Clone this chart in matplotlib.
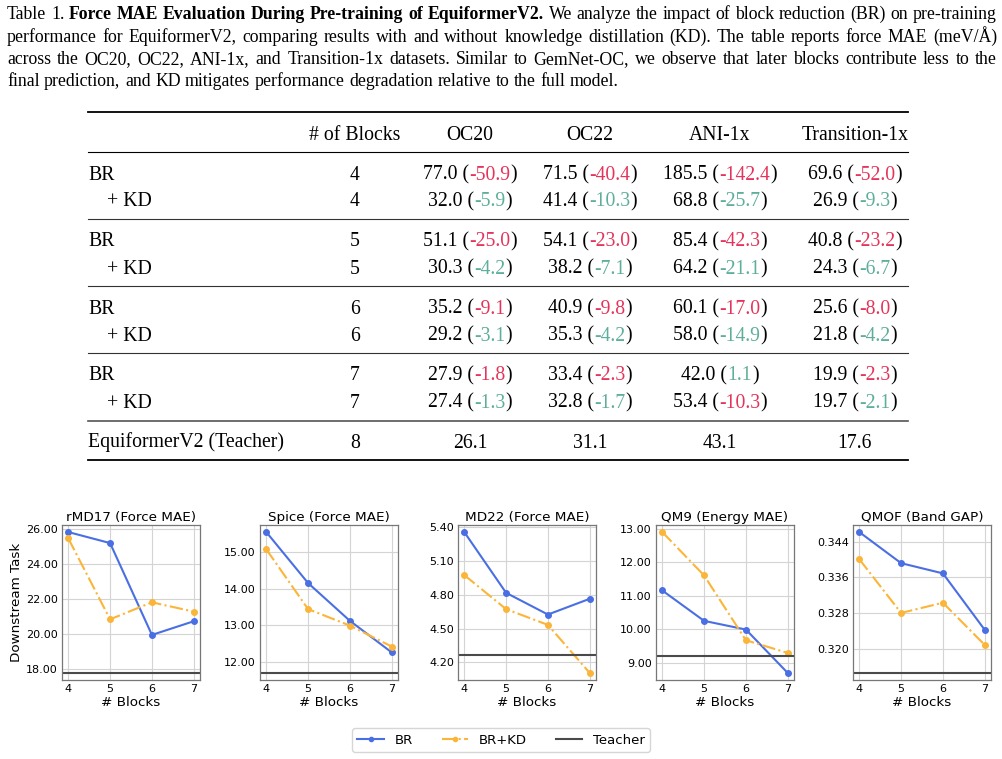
import matplotlib
matplotlib.use('Agg')
import matplotlib.pyplot as plt
from matplotlib.lines import Line2D
import numpy as np

W, H = 1002, 759

# ---- table data ----
row_labels = ['BR', '+ KD', 'BR', '+ KD', 'BR', '+ KD', 'BR', '+ KD', 'EquiformerV2 (Teacher)']
n_blocks = ['4', '4', '5', '5', '6', '6', '7', '7', '8']
col_names = ['OC20', 'OC22', 'ANI-1x', 'Transition-1x']
oc20 = ['77.0', '32.0', '51.1', '30.3', '35.2', '29.2', '27.9', '27.4', '26.1']
oc22 = ['71.5', '41.4', '54.1', '38.2', '40.9', '35.3', '33.4', '32.8', '31.1']
ani1x = ['185.5', '68.8', '85.4', '64.2', '60.1', '58.0', '42.0', '53.4', '43.1']
trans1x = ['69.6', '26.9', '40.8', '24.3', '25.6', '21.8', '19.9', '19.7', '17.6']
oc20_d = ['-50.9', '-5.9', '-25.0', '-4.2', '-9.1', '-3.1', '-1.8', '-1.3', None]
oc22_d = ['-40.4', '-10.3', '-23.0', '-7.1', '-9.8', '-4.2', '-2.3', '-1.7', None]
ani1x_d = ['-142.4', '-25.7', '-42.3', '-21.1', '-17.0', '-14.9', '1.1', '-10.3', None]
trans1x_d = ['-52.0', '-9.3', '-23.2', '-6.7', '-8.0', '-4.2', '-2.3', '-2.1', None]
# which delta is the better one (green) or worse (red)
oc20_good = [0, 1, 0, 1, 0, 1, 0, 1, None]
oc22_good = [0, 1, 0, 1, 0, 1, 0, 1, None]
ani1x_good = [0, 1, 0, 1, 0, 1, 1, 0, None]
trans1x_good = [0, 1, 0, 1, 0, 1, 0, 1, None]

# ---- plot data ----
blocks = [4, 5, 6, 7]
titles = ['rMD17 (Force MAE)', 'Spice (Force MAE)', 'MD22 (Force MAE)',
          'QM9 (Energy MAE)', 'QMOF (Band GAP)']
br = [[25.81, 25.18, 19.94, 20.72],
      [15.54, 14.15, 13.12, 12.26],
      [5.358, 4.818, 4.625, 4.765],
      [11.16, 10.25, 9.99, 8.69],
      [0.3462, 0.3392, 0.3369, 0.3242]]
br_kd = [[25.45, 20.83, 21.80, 21.27],
         [15.07, 13.44, 12.99, 12.42],
         [4.976, 4.673, 4.533, 4.106],
         [12.91, 11.61, 9.67, 9.29],
         [0.3401, 0.3280, 0.3303, 0.3208]]
teacher = [17.77, 11.70, 4.262, 9.21, 0.3145]
yticks = [[18, 20, 22, 24, 26],
          [12, 13, 14, 15],
          [4.2, 4.5, 4.8, 5.1, 5.4],
          [9, 10, 11, 12, 13],
          [0.320, 0.328, 0.336, 0.344]]
yfmt = ['%.2f', '%.2f', '%.2f', '%.2f', '%.3f']

RED = '#e5345a'
GREEN = '#5fae9b'
BLUE = '#4a6fe3'
ORANGE = '#fbb539'

fig = plt.figure(figsize=(W / 100, H / 100), dpi=100)
r = fig.canvas.get_renderer()
serif = ['Liberation Serif', 'DejaVu Serif']


def fx(x):
    return x / W


def fy(y):
    return 1 - y / H


def width_of(s, **kw):
    t = fig.text(0, 0, s, **kw)
    w = t.get_window_extent(renderer=r).width
    t.remove()
    return w


# ---- caption (justified lines) ----
cap_size = 12.8
cap_lines = [
    ([('Table', 'normal'), ('1.', 'normal'), ('Force', 'bold'), ('MAE', 'bold'),
      ('Evaluation', 'bold'), ('During', 'bold'), ('Pre-training', 'bold'), ('of', 'bold'),
      ('EquiformerV2.', 'bold')] +
     [(w, 'normal') for w in 'We analyze the impact of block reduction (BR) on pre-training'.split()], True),
    ([(w, 'normal') for w in 'performance for EquiformerV2, comparing results with and without '
      'knowledge distillation (KD). The table reports force MAE (meV/Å)'.split()], True),
    ([(w, 'normal') for w in 'across the OC20, OC22, ANI-1x, and Transition-1x datasets.  Similar '
      'to GemNet-OC, we observe that later blocks contribute less to the'.split()], True),
    ([(w, 'normal') for w in 'final prediction, and KD mitigates performance degradation '
      'relative to the full model.'.split()], False),
]
cap_base = [19, 42, 64, 86]
x0, x1 = 7, 997
space_w = width_of('a b', family=serif, fontsize=cap_size) - width_of('ab', family=serif, fontsize=cap_size)
for (words, justify), yy in zip(cap_lines, cap_base):
    ws = [width_of(w, family=serif, fontsize=cap_size, weight=b) for w, b in words]
    if justify:
        gap = max((x1 - x0 - sum(ws)) / (len(words) - 1), 0.5 * space_w)
    else:
        gap = space_w
    x = x0
    for (w, b), wd in zip(words, ws):
        fig.text(fx(x), fy(yy), w, family=serif, fontsize=cap_size, weight=b,
                 ha='left', va='baseline')
        x += wd + gap

# ---- table ----
tab_size = 14.2
row_y = [179.5, 206.5, 246.5, 273.5, 313.5, 340.5, 380.5, 407.5, 447.5]  # baselines
header_y = 139.5
col_x = [470, 590, 720, 855]
blocks_x = 355


def rule(y, lw, color='black'):
    fig.add_artist(Line2D([fx(88), fx(908)], [fy(y), fy(y)], lw=lw, color=color))


rule(112, 1.3)
rule(152, 0.8)
for yy in [219, 286, 353]:
    rule(yy, 0.8, '#333333')
rule(421, 1.2, '#555555')
rule(460, 1.3)

fig.text(fx(blocks_x), fy(header_y), '# of Blocks', family=serif, fontsize=tab_size,
         ha='center', va='baseline')
for cx, name in zip(col_x, col_names):
    fig.text(fx(cx), fy(header_y), name, family=serif, fontsize=tab_size,
             ha='center', va='baseline')


def cell(cx, yy, pieces):
    ws = [width_of(s, family=serif, fontsize=tab_size) for s, c in pieces]
    x = cx - sum(ws) / 2
    for (s, c), wd in zip(pieces, ws):
        fig.text(fx(x), fy(yy), s, family=serif, fontsize=tab_size, color=c,
                 ha='left', va='baseline')
        x += wd


cols = [(oc20, oc20_d, oc20_good), (oc22, oc22_d, oc22_good),
        (ani1x, ani1x_d, ani1x_good), (trans1x, trans1x_d, trans1x_good)]
for i, yy in enumerate(row_y):
    lx = 107 if row_labels[i] == '+ KD' else 88
    fig.text(fx(lx), fy(yy), row_labels[i], family=serif, fontsize=tab_size,
             ha='left', va='baseline')
    fig.text(fx(blocks_x), fy(yy), n_blocks[i], family=serif, fontsize=tab_size,
             ha='center', va='baseline')
    for cx, (vals, ds, good) in zip(col_x, cols):
        if ds[i] is None:
            cell(cx, yy, [(vals[i], 'black')])
        else:
            c = GREEN if good[i] else RED
            cell(cx, yy, [(vals[i] + ' (', 'black'), (ds[i], c), (')', 'black')])

# ---- small plots ----
lefts = [62, 260, 458, 656, 853]
for k in range(5):
    ax = fig.add_axes([fx(lefts[k]), fy(680), 138 / W, 155 / H])
    ax.grid(True, color='#d4d4d4', lw=0.8)
    ax.set_axisbelow(True)
    ax.plot(blocks, br[k], '-o', color=BLUE, lw=1.5, ms=4, label='BR')
    ax.plot(blocks, br_kd[k], '-.o', color=ORANGE, lw=1.5, ms=4, label='BR+KD')
    ax.axhline(teacher[k], color='#4a4a4a', lw=1.5, label='Teacher')
    ax.set_xticks(blocks)
    ax.set_yticks(yticks[k])
    ax.set_yticklabels([yfmt[k] % v for v in yticks[k]])
    ax.tick_params(length=0, pad=3, labelsize=8)
    for s in ax.spines.values():
        s.set_color('#777777')
        s.set_linewidth(0.9)
    ax.set_title(titles[k], fontsize=9.7, pad=3)
    ax.set_xlabel('# Blocks', fontsize=9.7, labelpad=1)
    if k == 0:
        ax.set_ylabel('Downstream Task', fontsize=9.7, labelpad=2)

handles = [Line2D([], [], color=BLUE, lw=1.5, marker='o', ms=3),
           Line2D([], [], color=ORANGE, lw=1.5, ls='-.', marker='o', ms=3),
           Line2D([], [], color='#4a4a4a', lw=1.5)]
fig.legend(handles, ['BR', 'BR+KD', 'Teacher'], loc='center', bbox_to_anchor=(0.5, fy(740)),
           ncol=3, fontsize=9.5, columnspacing=2.2, frameon=True)

fig.savefig('out.png', dpi=100)
